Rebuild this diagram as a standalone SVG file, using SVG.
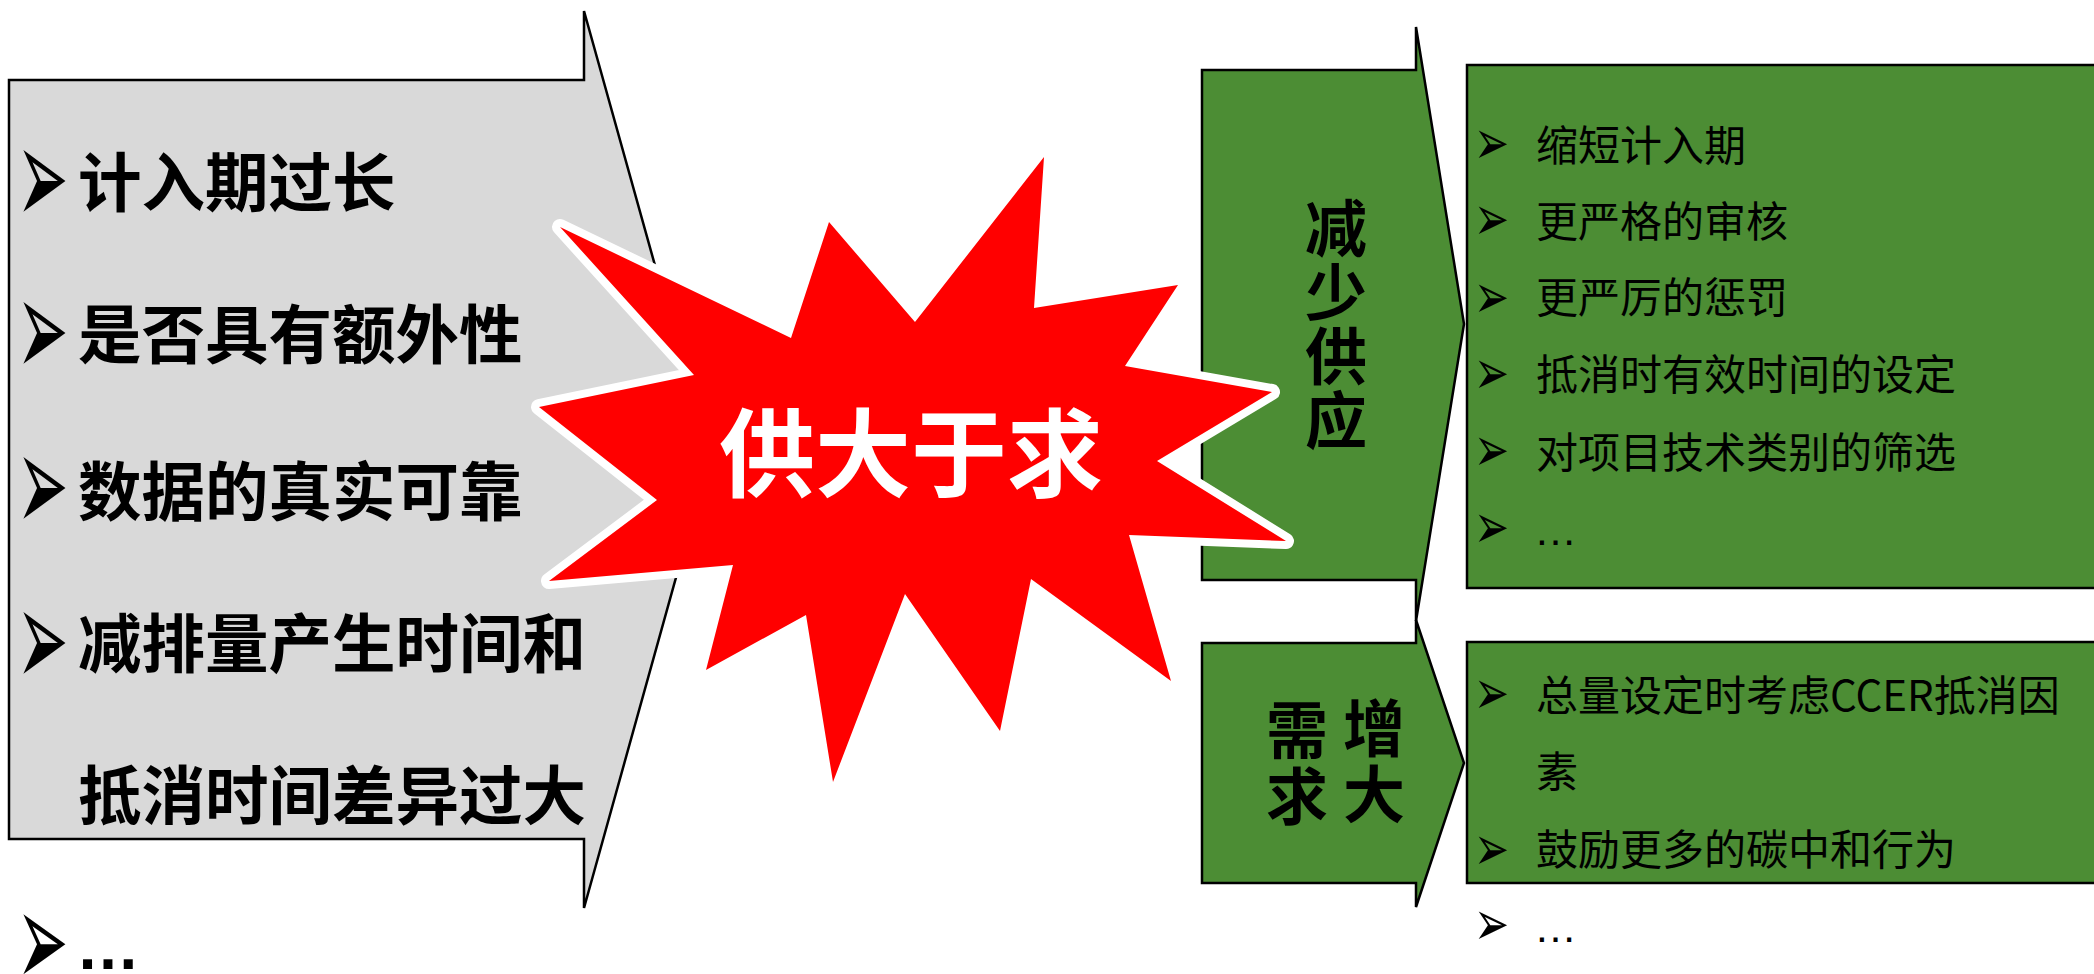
<svg xmlns="http://www.w3.org/2000/svg" width="2094" height="974" viewBox="0 0 2094 974">
<style>
.shape{stroke:#000;stroke-width:2.5;stroke-linejoin:miter}
.gray{fill:#D9D9D9}
.green{fill:#4C8D34}
.big{font-family:"Noto Sans CJK SC","Noto Sans",sans-serif;font-weight:700;font-size:63.5px;fill:#000}
.vert{font-family:"Noto Sans CJK SC","Noto Sans",sans-serif;font-weight:700;font-size:62px;fill:#000;writing-mode:vertical-rl;text-orientation:upright}
.item{font-family:"Noto Sans CJK SC","Noto Sans",sans-serif;font-weight:400;font-size:42px;fill:#000}
.bl{font-family:"DejaVu Sans",sans-serif;font-size:62px;fill:#000}
.bs{font-family:"DejaVu Sans",sans-serif;font-size:42px;fill:#000}
.dots{font-family:"Liberation Sans",sans-serif;fill:#000}
</style>
<rect width="2094" height="974" fill="#fff"/>
<g id="problems">
<polygon class="shape gray" points="9,80 584,80 584,11 709,459 584,908 584,839 9,839"/>
<text class="bl" transform="translate(16.5,224.5) scale(1,2.27)">➢</text>
<text class="big" x="78" y="206">计入期过长</text>
<text class="bl" transform="translate(16.5,376.5) scale(1,2.27)">➢</text>
<text class="big" x="78" y="358">是否具有额外性</text>
<text class="bl" transform="translate(16.5,532) scale(1,2.27)">➢</text>
<text class="big" x="78" y="515">数据的真实可靠</text>
<text class="bl" transform="translate(16.5,686.5) scale(1,2.27)">➢</text>
<text class="big" x="78" y="667">减排量产生时间和</text>
<text class="big" x="78" y="819">抵消时间差异过大</text>
</g>
<g id="more-problems">
<text class="bl" transform="translate(16.5,987) scale(1,2.2)">➢</text>
<text class="dots" x="76" y="969" font-size="64" font-weight="700">…</text>
</g>
<g id="reduce-supply">
<polygon class="shape green" points="1202,70 1416,70 1416,27 1464,324 1416,621 1416,580 1202,580"/>
<text class="vert" x="1336" y="197" letter-spacing="2">减少供应</text>
</g>
<g id="increase-demand">
<polygon class="shape green" points="1202,643 1416,643 1416,620 1464,763 1416,907 1416,883 1202,883"/>
<text class="vert" x="1374" y="697" letter-spacing="4">增大</text>
<text class="vert" x="1297" y="699" letter-spacing="4">需求</text>
</g>
<g id="supply-measures">
<rect class="shape green" x="1467" y="65" width="640" height="523"/>
<text class="bs" transform="translate(1474,164.2) scale(1,1.5)">➢</text>
<text class="item" x="1536" y="161">缩短计入期</text>
<text class="bs" transform="translate(1474,239.7) scale(1,1.5)">➢</text>
<text class="item" x="1536" y="237">更严格的审核</text>
<text class="bs" transform="translate(1474,318.2) scale(1,1.5)">➢</text>
<text class="item" x="1536" y="313">更严厉的惩罚</text>
<text class="bs" transform="translate(1474,393.7) scale(1,1.5)">➢</text>
<text class="item" x="1536" y="390">抵消时有效时间的设定</text>
<text class="bs" transform="translate(1474,471.3) scale(1,1.5)">➢</text>
<text class="item" x="1536" y="468">对项目技术类别的筛选</text>
<text class="bs" transform="translate(1474,547.7) scale(1,1.5)">➢</text>
<text class="dots" x="1534" y="545" font-size="43">…</text>
</g>
<g id="demand-measures">
<rect class="shape green" x="1467" y="642" width="640" height="241"/>
<text class="bs" transform="translate(1474,713.7) scale(1,1.5)">➢</text>
<text class="item" x="1536" y="711">总量设定时考虑CCER抵消因</text>
<text class="item" x="1536" y="787">素</text>
<text class="bs" transform="translate(1474,869.7) scale(1,1.5)">➢</text>
<text class="item" x="1536" y="865">鼓励更多的碳中和行为</text>
</g>
<g id="more-demand">
<text class="bs" transform="translate(1474,944.7) scale(1,1.5)">➢</text>
<text class="dots" x="1534" y="942" font-size="43">…</text>
</g>
<g id="oversupply">
<polygon fill="#FF0000" stroke="#FFFFFF" stroke-width="16" stroke-linejoin="round" paint-order="stroke" points="560,227 791,338 829,222 915,322 1044,157 1034,308 1178,285 1125,366 1272,392 1157,461 1286,541 1129,535 1171,681 1031,579 1000,731 905,594 833,782 806,615 706,670 733,565 549,581 657,500 539,407 694,375"/>
<text x="911" y="489" font-family="'Noto Sans CJK SC','Noto Sans',sans-serif" font-weight="700" font-size="96" fill="#FFFFFF" text-anchor="middle">供大于求</text>
</g>
<g id="connectors"/>
</svg>
